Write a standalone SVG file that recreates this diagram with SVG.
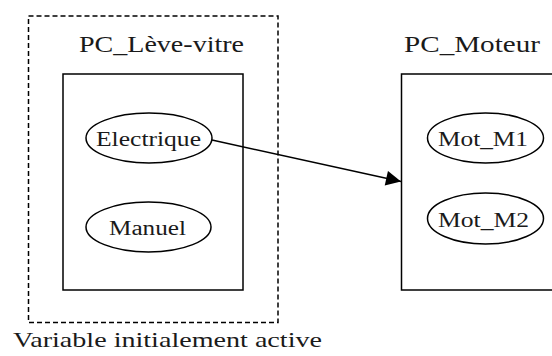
<svg xmlns="http://www.w3.org/2000/svg" width="552" height="356" viewBox="0 0 552 356">
<style>
text{font-family:"Liberation Serif","Times New Roman",serif;fill:#1a1a1a}
.t{font-size:24px}
.n{font-size:20px}
.box{fill:none;stroke:#000;stroke-width:1.5}
.ell{fill:#fff;stroke:#000;stroke-width:1.5}
</style>
<defs>
<marker id="ah" viewBox="0 0 10 10" refX="10" refY="5" markerWidth="19" markerHeight="15" markerUnits="userSpaceOnUse" orient="auto">
<path d="M0,0 L10,5 L0,10 Z" fill="#000"/>
</marker>
</defs>
<rect width="552" height="356" fill="#fff"/>
<g id="variable-active">
<rect x="28.5" y="16" width="249.5" height="306.5" fill="none" stroke="#000" stroke-width="1.5" stroke-dasharray="5,3"/>
<text x="13" y="347" font-size="22" textLength="309" lengthAdjust="spacingAndGlyphs">Variable initialement active</text>
</g>
<g id="pc-leve-vitre">
<text class="t" x="79" y="52" textLength="165" lengthAdjust="spacingAndGlyphs">PC_Lève-vitre</text>
<rect class="box" x="63" y="74" width="180" height="216"/>
</g>
<g id="electrique">
<ellipse class="ell" cx="149" cy="138" rx="63" ry="25"/>
<text class="n" x="96" y="146" textLength="105" lengthAdjust="spacingAndGlyphs">Electrique</text>
</g>
<g id="manuel">
<ellipse class="ell" cx="148.5" cy="227" rx="62.5" ry="25"/>
<text class="n" x="109" y="235" textLength="77" lengthAdjust="spacingAndGlyphs">Manuel</text>
</g>
<g id="pc-moteur">
<text class="t" x="404" y="52" textLength="136" lengthAdjust="spacingAndGlyphs">PC_Moteur</text>
<rect class="box" x="401.5" y="74" width="160" height="216"/>
</g>
<g id="mot-m1">
<ellipse class="ell" cx="485.5" cy="138" rx="58" ry="25"/>
<text class="n" x="438" y="146" textLength="90" lengthAdjust="spacingAndGlyphs">Mot_M1</text>
</g>
<g id="mot-m2">
<ellipse class="ell" cx="485.5" cy="218.5" rx="58" ry="25.5"/>
<text class="n" x="438" y="226.5" textLength="91" lengthAdjust="spacingAndGlyphs">Mot_M2</text>
</g>
<g id="connectors">
<line x1="212" y1="140" x2="401" y2="181.5" stroke="#000" stroke-width="1.5" marker-end="url(#ah)"/>
</g>
</svg>
